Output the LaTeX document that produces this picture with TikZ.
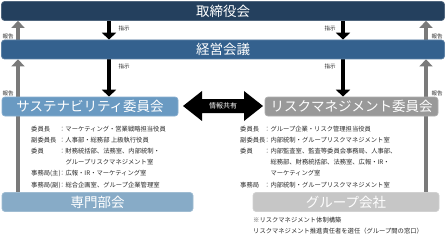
\documentclass[tikz,border=0pt]{standalone}
\usepackage{fontspec}
\setmainfont{Noto Sans CJK JP}
\usetikzlibrary{arrows.meta,backgrounds}
\definecolor{cTori}{HTML}{24405E}
\definecolor{cKeiei}{HTML}{34618E}
\definecolor{cSus}{HTML}{6A9AC2}
\definecolor{cSenmon}{HTML}{87ABC7}
\definecolor{cRisk}{HTML}{999999}
\definecolor{cGroup}{HTML}{C6C6C6}
\definecolor{cUp}{HTML}{7A7A7A}
\definecolor{cTxt}{HTML}{2A2A2A}
\begin{document}
\begin{tikzpicture}[x=1pt,y=-1pt,
  box/.style={draw=#1!80!white, fill=#1, line width=0.7pt, rounded corners=3pt,
    text=white, inner sep=0pt, minimum height=19pt,
    font=\fontsize{13.5}{14}\selectfont},
  small/.style={font=\fontsize{5.5}{6}\selectfont, text=cTxt, inner sep=0pt},
  desc/.style={font=\fontsize{6.3}{11.2}\selectfont, text=cTxt, inner sep=0pt, anchor=north west},
  downarrow/.style={draw=black, line width=4.5pt, -{Triangle[width=14pt,length=7pt]}},
  uparrow/.style={draw=cUp, line width=4pt, -{Triangle[width=13pt,length=7pt]}}
]
\useasboundingbox (0,0) rectangle (446,235);

% boxes
\node[box=cTori, minimum width=443pt] (tori) at (223,11) {取締役会};
\node[box=cKeiei, minimum width=443pt] (keiei) at (223,49.5) {経営会議};
\node[box=cSus, minimum width=176pt] (sus) at (90,106.5) {サステナビリティ委員会};
\node[box=cRisk, minimum width=173pt] (risk) at (351.5,106.5) {リスクマネジメント委員会};
\node[box=cSenmon, minimum width=191pt] (senmon) at (97.5,202) {専門部会};
\node[box=cGroup, minimum width=186pt] (group) at (346,202) {グループ会社};

% column coordinates
\coordinate (xL) at (109,0);
\coordinate (xR) at (343,0);
\coordinate (gL) at (18,0);
\coordinate (gR) at (426,0);

% info sharing double arrow
\fill[black] (183,106) -- (202,91) -- (202,99) -- (244,99) -- (244,91) -- (263,106)
  -- (244,121) -- (244,113) -- (202,113) -- (202,121) -- cycle;
\node[font=\fontsize{7}{7}\selectfont, text=white, inner sep=0pt] (info) at (223,106) {情報共有};

% arrows behind boxes
\begin{scope}[on background layer]
\draw[downarrow] (tori.south -| xL) -- (keiei.north -| xL);
\draw[downarrow] (tori.south -| xR) -- (keiei.north -| xR);
\draw[downarrow] (keiei.south -| xL) -- (sus.north -| xL);
\draw[downarrow] (keiei.south -| xR) -- (risk.north -| xR);
\draw[uparrow] (keiei.north -| gL) -- (tori.south -| gL);
\draw[uparrow] (keiei.north -| gR) -- (tori.south -| gR);
\draw[uparrow] (senmon.north -| gL) -- (keiei.south -| gL);
\draw[uparrow] (group.north -| gR) -- (keiei.south -| gR);
\end{scope}

% small labels
\node[small] (s1) at (124,28) {指示};
\node[small] (s2) at (330,28) {指示};
\node[small] (s3) at (124,66) {指示};
\node[small] (s4) at (330,66) {指示};
\node[small] (h1) at (8,36) {報告};
\node[small] (h2) at (437,36) {報告};
\node[small] (h3) at (8,93) {報告};
\node[small] (h4) at (437,93) {報告};

% descriptions
\node[desc] (susdesc) at (31,123) {%
\begin{tabular}{@{}p{28pt}@{}l@{}}
委員長 & ：マーケティング・営業戦略担当役員\\
副委員長 & ：人事部・総務部 上級執行役員\\
委員 & ：財務統括部、法務室、内部統制・\\
 & \hspace{6.3pt}グループリスクマネジメント室\\
事務局(主) & ：広報・IR・マーケティング室\\
事務局(副) & ：総合企画室、グループ企業管理室
\end{tabular}};

\node[desc] (riskdesc) at (240,123) {%
\begin{tabular}{@{}p{24pt}@{}l@{}}
委員長 & ：グループ企業・リスク管理担当役員\\
副委員長 & ：内部統制・グループリスクマネジメント室\\
委員 & ：内部監査室、監査等委員会事務局、人事部、\\
 & \hspace{6.3pt}総務部、財務統括部、法務室、広報・IR・\\
 & \hspace{6.3pt}マーケティング室\\
事務局 & ：内部統制・グループリスクマネジメント室
\end{tabular}};

\node[desc] (note) at (253,214) {%
\begin{tabular}{@{}l@{}}
※リスクマネジメント体制構築\\
リスクマネジメント推進責任者を選任（グループ間の窓口）
\end{tabular}};
\end{tikzpicture}
\end{document}
